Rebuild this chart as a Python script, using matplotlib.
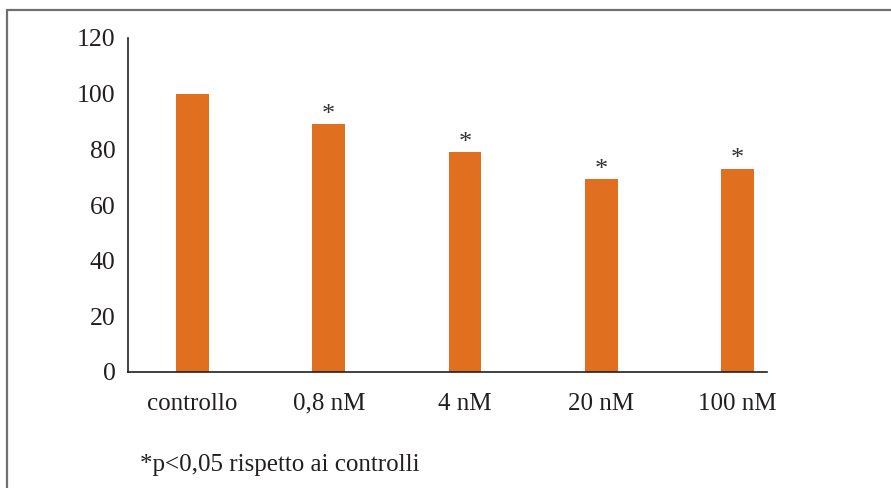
import matplotlib
matplotlib.use("Agg")
import matplotlib.pyplot as plt
from matplotlib.patches import Rectangle

# data
categories = ["controllo", "0,8 nM", "4 nM", "20 nM", "100 nM"]
values = [100, 89, 79, 69.3, 72.9]
significant = [False, True, True, True, True]
yticks = [0, 20, 40, 60, 80, 100, 120]
footnote = "*p<0,05 rispetto ai controlli"

plt.rcParams['font.family'] = ['Liberation Serif', 'DejaVu Serif']
plt.rcParams['font.size'] = 18

fig = plt.figure(figsize=(8.91, 4.88), dpi=100)
ax = fig.add_axes([128/891, 116/488, (767-128)/891, (372-38)/488])

bar_color = "#E0701F"
x = list(range(len(categories)))
bars = ax.bar(x, values, width=0.242, color=bar_color)

for xi, v, s in zip(x, values, significant):
    if s:
        ax.annotate("*", (xi, v), xytext=(0, -1), textcoords="offset points",
                    ha="center", va="bottom", fontsize=19, color="#333333")

ax.set_xlim(-0.474, 4.217)
ax.set_ylim(0, 120)
ax.set_yticks(yticks)
ax.set_xticks(x)
ax.set_xticklabels(categories)
for s in ["top", "right"]:
    ax.spines[s].set_visible(False)
for s in ["left", "bottom"]:
    ax.spines[s].set_linewidth(1.2)
    ax.spines[s].set_color("#231f20")
ax.tick_params(axis="y", length=0, pad=9, labelcolor="#231f20", labelsize=18.5)
ax.tick_params(axis="x", length=0, pad=15, labelcolor="#231f20")

fig.text(140/891, 1 - 465/488, footnote, ha="left", va="center",
         fontsize=18, color="#231f20")

# frame around the figure, cut off at right and bottom
fig.patches.append(Rectangle((7/891, -0.1), 1.2, 1 - 10/488 + 0.1,
                             transform=fig.transFigure, fill=False,
                             edgecolor="#707070", linewidth=1.6))

fig.savefig("out.png", dpi=100)
